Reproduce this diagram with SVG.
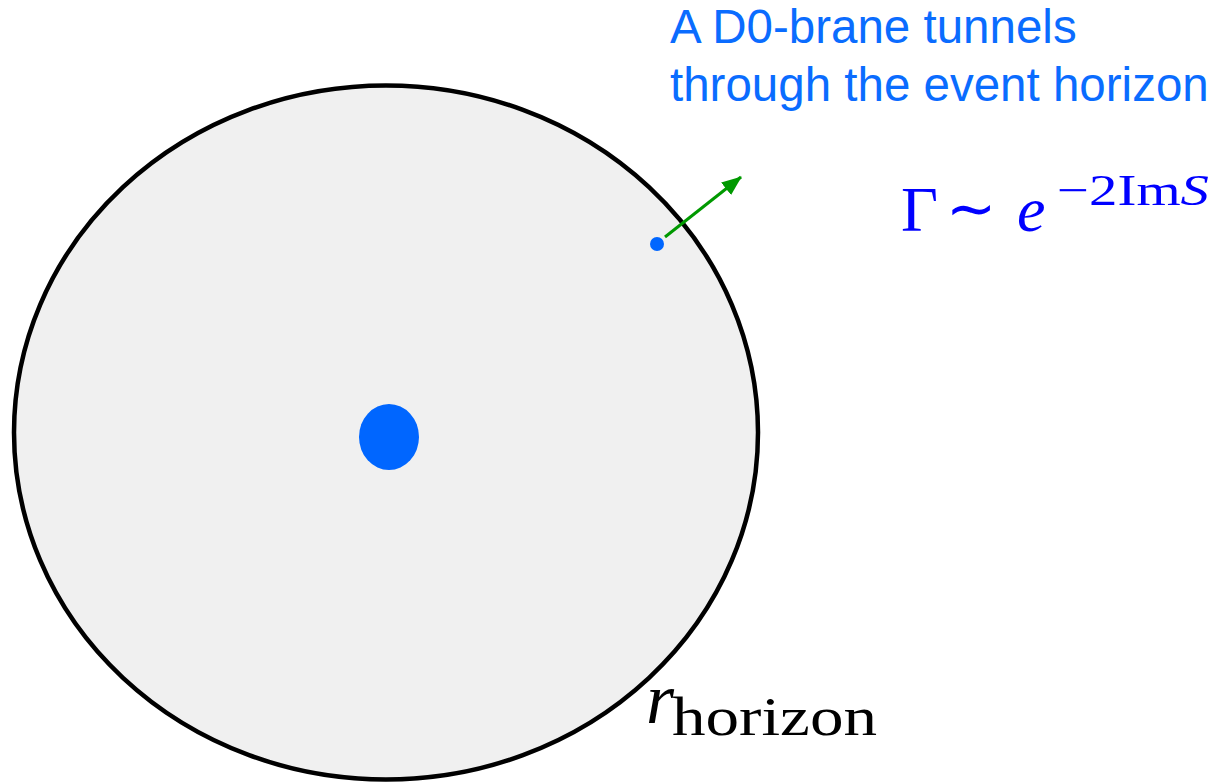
<svg xmlns="http://www.w3.org/2000/svg" width="1219" height="782" viewBox="0 0 1219 782">
<style>
.cap{font-family:"Liberation Sans",Arial,sans-serif;font-size:47.5px;fill:#0a6cff}
.math{font-family:"Liberation Serif","Times New Roman",serif}
</style>
<defs>
<marker id="ahg" markerWidth="20" markerHeight="16" refX="19" refY="8" orient="auto" markerUnits="userSpaceOnUse">
<polygon points="0,0 20,8 0,16" fill="#009900"/>
</marker>
</defs>
<g id="horizon">
<ellipse cx="386" cy="432.5" rx="372" ry="347" fill="#f0f0f0" stroke="#000" stroke-width="4.5"/>
</g>
<g id="center">
<ellipse cx="389" cy="437" rx="30" ry="33" fill="#0066ff"/>
</g>
<g id="d0brane">
<circle cx="657" cy="244" r="7" fill="#0066ff"/>
</g>
<g id="connectors">
<line x1="665" y1="237" x2="741" y2="177" stroke="#009900" stroke-width="3" marker-end="url(#ahg)"/>
</g>
<g id="caption">
<text class="cap" x="670" y="43">A D0-brane tunnels</text>
<text class="cap" x="670" y="101">through the event horizon</text>
</g>
<g id="rate">
<text class="math" x="901" y="231" font-size="64" fill="#0000ff">Γ</text>
<text class="math" x="946" y="229" font-size="60" fill="#0000ff" textLength="50" lengthAdjust="spacingAndGlyphs">∼</text>
<text class="math" x="1017" y="231" font-size="64" font-style="italic" fill="#0000ff">e</text>
<text class="math" x="1057" y="205" font-size="44" fill="#0000ff" textLength="152" lengthAdjust="spacingAndGlyphs">−2Im<tspan font-style="italic">S</tspan></text>
</g>
<g id="rlabel">
<text class="math" x="646" y="723" font-size="72" font-style="italic" fill="#000">r</text>
<text class="math" x="672" y="735" font-size="54" fill="#000" textLength="205" lengthAdjust="spacingAndGlyphs">horizon</text>
</g>
</svg>
